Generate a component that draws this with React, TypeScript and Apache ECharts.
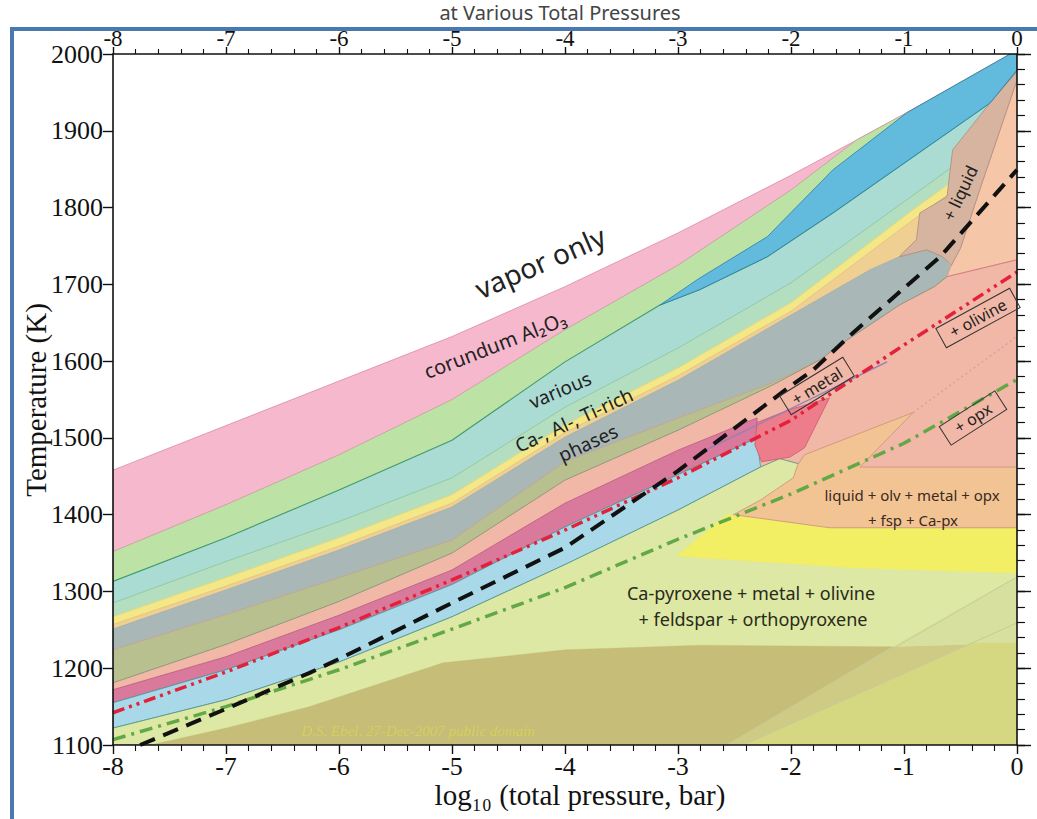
import { useEffect, useRef } from "react";
import * as echarts from "echarts";

type Pt = [number, number];

const X_MIN = -8;
const X_MAX = 0;
const T_MIN = 1100;
const T_MAX = 2000;
const xTickStep = 1;
const tTickStep = 100;

// ---- boundary curves: [log10 P (bar), T (K)] ----
const vaporLine: Pt[] = [[-8,1458],[-7,1516],[-6,1574],[-5,1632],[-4,1697],[-3,1767],[-2,1842],[-1.42,1888],[-0.97,1924],[-0.06,2000],[0,2000]];
const corundumBase: Pt[] = [[-8,1352],[-7,1413],[-6,1478],[-5,1550],[-4,1641],[-3,1725],[-2,1823],[-1.42,1888],[-0.97,1924],[-0.06,2000],[0,2000]];
const greenBase: Pt[] = [[-8,1313],[-7,1370],[-6,1432],[-5,1497],[-4,1599],[-3.16,1673],[-2.81,1693],[-2.21,1736],[-1.63,1793],[-0.24,1936],[0,1979]];
const blueZone: Pt[] = [[-3.16,1673],[-2.81,1708],[-2.21,1762],[-1.63,1849],[-0.97,1924],[-0.06,2000],[0,2000],[0,1979],[-0.24,1936],[-1.63,1793],[-2.21,1736],[-2.81,1693]];
const tealBase: Pt[] = [[-8,1285],[-7,1339],[-6,1391],[-5,1448],[-4,1540],[-3,1617],[-2,1702],[-0.92,1816],[0,1914]];
const yellowTop: Pt[] = [[-8,1267],[-7,1318],[-6,1370],[-5,1426],[-4,1517],[-3,1591],[-2,1676],[-0.92,1797],[0,1895]];
const orangeLineTop: Pt[] = [[-8,1257],[-7,1307],[-6,1359],[-5,1415],[-4,1507],[-3,1581],[-2,1665],[-0.92,1784],[0,1882]];
const greyTop: Pt[] = [[-8,1251],[-7,1302],[-6,1354],[-5,1410],[-4,1501],[-3,1575],[-2,1660],[-1.3,1719],[-1.04,1736],[-0.8,1745],[-0.66,1736],[-0.59,1724],[0,1724]];
const oliveTop: Pt[] = [[-8,1224],[-7,1270],[-6,1318],[-5,1367],[-4,1469],[-3,1526],[-2.16,1572],[-1.74,1602],[-1.57,1621],[-1.04,1673],[-0.73,1697],[-0.62,1710],[0,1710]];
const salmonTop: Pt[] = [[-8,1181],[-7,1231],[-6,1287],[-5,1350],[-4,1445],[-3,1510],[-2.16,1569],[-1.74,1602],[-1.57,1621],[-1.04,1673],[-0.73,1697],[-0.62,1710],[-0.58,1725],[-0.5,1747],[-0.33,1823],[0,1966]];
const peachZone: Pt[] = [[0,1966],[-0.33,1823],[-0.5,1747],[-0.58,1725],[-0.62,1710],[0,1732]];
const tanZone: Pt[] = [[0,1977],[-0.24,1936],[-0.57,1875],[-0.62,1814],[-0.86,1793],[-0.89,1758],[-1.01,1741],[-1.04,1736],[-0.8,1745],[-0.66,1736],[-0.58,1725],[-0.5,1747],[-0.33,1823],[0,1966]];
const magentaTop: Pt[] = [[-8,1172],[-7,1215],[-6,1269],[-5,1328],[-4,1415],[-3,1484],[-2.3,1526]];
const lightBlueTop: Pt[] = [[-8,1155],[-7,1198],[-6,1250],[-5,1309],[-4,1384],[-3,1452],[-2.3,1500]];
const lightBlueBase: Pt[] = [[-8,1122],[-7,1159],[-6,1208],[-5,1267],[-4,1335],[-3,1406],[-2.27,1462]];
const blobEdge: Pt[] = [[-2.1,1473],[-1.95,1467],[-1.39,1458],[0,1458]];
const coralBlob: Pt[] = [[-2.3,1520],[-2.01,1537],[-1.66,1552],[-1.88,1487],[-2.01,1475],[-2.26,1469],[-2.32,1491]];
const orangeZone: Pt[] = [[-2.51,1400],[-2.27,1419],[-1.98,1448],[-1.94,1465],[-1.88,1478],[-0.92,1533],[-1.39,1462],[0,1462],[0,1383],[-1.66,1383]];
const yellowZone: Pt[] = [[-3.01,1346],[-2.57,1400],[-2.27,1395],[-1.66,1383],[0,1383],[0,1324],[-1.48,1331]];
const oliveDark: Pt[] = [[-7.67,1100],[-7,1122],[-6.26,1150],[-5.08,1207],[-4,1224],[-2.81,1230],[-1.1,1228],[-2.57,1100]];
const diagMid: Pt[] = [[-1.1,1228],[0,1233],[0,1100],[-2.57,1100]];
const diagUpper: Pt[] = [[-1.1,1228],[0,1319],[0,1233]];
const diagLower: Pt[] = [[-2.42,1100],[-0.4,1233],[0,1233],[0,1100]];
const upperDiagLine: Pt[] = [[-2.57,1100],[0,1319]];
const lowerDiagLine: Pt[] = [[-2.42,1100],[0,1259]];
const purpleLine: Pt[] = [[-2.8,1481],[-1.15,1599]];
const olivineLine: Pt[] = [[-0.62,1710],[0,1732]];
const dottedLine: Pt[] = [[-0.92,1533],[0,1632]];

// ---- dashed reference paths ----
const blackDashed: Pt[] = [[-7.76,1100],[-7,1147],[-6.26,1194],[-6,1212],[-5,1285],[-4,1357],[-3,1457],[-2,1568],[-1.8,1589],[-1.45,1637],[-1,1695],[-0.68,1736],[0,1849]];
const redDashDot: Pt[] = [[-8,1142],[-7,1195],[-6,1253],[-5,1315],[-4,1380],[-3,1448],[-2,1523],[-1,1621],[0,1716]];
const greenDashDot: Pt[] = [[-8,1107],[-7,1150],[-6,1198],[-5,1251],[-4,1305],[-3,1368],[-2,1427],[-1,1493],[0,1576]];

const fillBelow = (top: Pt[]): Pt[] => [...top, [X_MAX, T_MIN], [X_MIN, T_MIN]];
const band = (top: Pt[], bottom: Pt[]): Pt[] => [...top, ...bottom.slice().reverse()];

const serif = '"Liberation Serif", "DejaVu Serif", serif';
const sans = '"Noto Sans", "Open Sans", sans-serif';

let zc = 1;
function poly(name: string, pts: Pt[], fill: string, stroke?: string, lw = 0.8) {
  const z = zc++;
  return {
    type: "custom",
    name,
    z,
    silent: true,
    clip: true,
    data: pts,
    renderItem: (params: any, api: any) => {
      if (params.dataIndex !== 0) return null;
      return {
        type: "polygon",
        shape: { points: pts.map((p) => api.coord(p)) },
        style: { fill, stroke: stroke || fill, lineWidth: stroke ? lw : 0.3 },
      };
    },
  };
}

function line(name: string, pts: Pt[], color: string, width: number, type: any, z = 40) {
  return {
    type: "line",
    name,
    data: pts,
    z,
    silent: true,
    symbol: "none",
    showSymbol: false,
    lineStyle: { color, width, type, cap: "butt" },
  };
}

function txt(text: string, x: number, y: number, font: string, rot = 0, fill = "#222") {
  return {
    type: "text",
    x,
    y,
    rotation: rot,
    z: 100,
    style: { text, font, fill, align: "center", verticalAlign: "middle", textAlign: "center", textVerticalAlign: "middle" },
  };
}

function boxed(text: string, x: number, y: number, w: number, h: number, rot: number) {
  return {
    type: "group",
    x,
    y,
    rotation: rot,
    z: 100,
    children: [
      { type: "rect", shape: { x: -w / 2, y: -h / 2, width: w, height: h }, style: { fill: "none", stroke: "#333", lineWidth: 1 }, z: 100 },
      { type: "text", x: 0, y: 0, z: 101, style: { text, font: `16px ${sans}`, fill: "#222", align: "center", verticalAlign: "middle", textAlign: "center", textVerticalAlign: "middle" } },
    ],
  };
}

function buildOption() {
  zc = 1;
  const series: any[] = [
    poly("corundum", fillBelow(vaporLine), "#f6b8cd", "#d98aa6"),
    poly("green", fillBelow(corundumBase), "#bde2a6", "#c79a9a"),
    poly("teal", fillBelow(greenBase), "#abdcd4", "#3f9a6c", 1.1),
    poly("green2", fillBelow(tealBase), "#b4dec0", "#8cc49c"),
    poly("yellow", fillBelow(yellowTop), "#f4e788", "#e8d870"),
    poly("orangeLine", fillBelow(orangeLineTop), "#efd092", "#e2c080"),
    poly("grey", fillBelow(greyTop), "#a9b8b7", "#9fb0ae"),
    poly("olive", fillBelow(oliveTop), "#b8c08f", "#c9a090"),
    poly("salmon", fillBelow(salmonTop), "#f1b7a7", "#7e9075"),
    poly("peach", peachZone, "#f6c6a8", "#e6a8a0"),
    poly("tan", tanZone, "#d7b4a0", "#b08a78"),
    poly("blue", blueZone, "#62badd", "#2b7fa6"),
    poly("magenta", band(magentaTop, lightBlueTop), "#d9799c", "#b85a80"),
    poly("lightBlue", band(lightBlueTop, lightBlueBase), "#a9d9e9", "#3d9c98"),
    poly("yellowGreen", fillBelow([...lightBlueBase, ...blobEdge]), "#dce8a3", "#4f8f88"),
    poly("oliveDark", oliveDark, "#c5bd78"),
    poly("diagMid", diagMid, "#cfca84"),
    poly("diagUpper", diagUpper, "#d7e09e"),
    poly("diagLower", diagLower, "#d6d781"),
    poly("yellowZone", yellowZone, "#f3ef64"),
    poly("orangeZone", orangeZone, "#f3c493", "#c9907a"),
    poly("coral", coralBlob, "#ee7d8b", "#c85a6a"),
    line("upperDiag", upperDiagLine, "#c4cc98", 1, "solid", 30),
    line("lowerDiag", lowerDiagLine, "#c4cc98", 1, "solid", 30),
    line("purple", purpleLine, "#8f7fb8", 1.2, "solid", 30),
    line("olivine", olivineLine, "#d97b86", 1, "solid", 30),
    line("dotted", dottedLine, "#dc9a90", 1.2, [2, 3], 30),
    line("greenDashDot", greenDashDot, "#62a847", 3.5, [13, 6, 3, 6], 41),
    line("redDashDot", redDashDot, "#e4213a", 3.5, [12, 5, 3, 5, 3, 5], 42),
    line("blackDashed", blackDashed, "#111111", 4, [16, 9], 43),
  ];

  const tickLine = { color: "#111", width: 1.4 };
  const labelStyle = { fontFamily: serif, fontSize: 26, color: "#111" };
  const xBase = {
    type: "value",
    min: X_MIN,
    max: X_MAX,
    interval: xTickStep,
    gridIndex: 0,
    z: 50,
    splitLine: { show: false },
    axisLine: { show: true, onZero: false, lineStyle: { color: "#111", width: 1.6 } },
    axisTick: { show: true, length: 9, lineStyle: tickLine },
    minorTick: { show: true, splitNumber: 5, length: 6, lineStyle: { color: "#111", width: 1.1 } },
    axisLabel: { ...labelStyle, margin: 8, formatter: (v: number) => String(v) },
  };
  const yBase = {
    type: "value",
    min: T_MIN,
    max: T_MAX,
    interval: tTickStep,
    z: 50,
    splitLine: { show: false },
    axisLine: { show: true, onZero: false, lineStyle: { color: "#111", width: 1.6 } },
  };

  return {
    animation: false,
    backgroundColor: "#ffffff",
    grid: { left: 113, right: 20, top: 54, bottom: 74, containLabel: false, outerBoundsMode: "none" },
    xAxis: [
      { ...xBase, position: "bottom" },
      {
        ...xBase,
        position: "top",
        axisTick: { show: true, length: 7, lineStyle: tickLine },
        minorTick: { show: true, splitNumber: 5, length: 5, lineStyle: { color: "#111", width: 1.1 } },
        axisLabel: { ...labelStyle, fontSize: 23, margin: 4, formatter: (v: number) => String(v) },
      },
    ],
    yAxis: [
      {
        ...yBase,
        position: "left",
        axisTick: { show: true, length: 10, lineStyle: tickLine },
        minorTick: { show: false },
        axisLabel: { ...labelStyle, margin: 10, formatter: (v: number) => String(v) },
      },
      {
        ...yBase,
        position: "left",
        axisLine: { show: false },
        axisTick: { show: true, inside: true, length: 8, lineStyle: tickLine },
        minorTick: { show: true, splitNumber: 5, length: 8, lineStyle: { color: "#111", width: 1.1 } },
        axisLabel: { show: false },
      },
      {
        ...yBase,
        position: "right",
        axisTick: { show: true, length: 14, lineStyle: tickLine },
        minorTick: { show: true, splitNumber: 5, length: 7, lineStyle: { color: "#111", width: 1.1 } },
        axisLabel: { show: false },
      },
    ],
    series,
    graphic: [
      { type: "rect", z: 100, shape: { x: 10, y: 27, width: 1027, height: 4 }, style: { fill: "#4a78b0" } },
      { type: "rect", z: 100, shape: { x: 10, y: 27, width: 4, height: 792 }, style: { fill: "#4a78b0" } },
      txt("at Various Total Pressures", 560, 12, `20px ${sans}`, 0, "#444"),
      txt("vapor only", 540, 262, `28px ${sans}`, 0.41),
      txt("corundum Al\u2082O\u2083", 495, 345, `20px ${sans}`, 0.37),
      txt("various", 560, 390, `19px ${sans}`, 0.4),
      txt("Ca-, Al-, Ti-rich", 574, 420, `19px ${sans}`, 0.43),
      txt("phases", 588, 443, `19px ${sans}`, 0.43),
      txt("+ liquid", 960, 193, `17px ${sans}`, 1.13),
      boxed("+ metal", 817, 386, 74, 22, 0.55),
      boxed("+ olivine", 978, 318, 84, 22, 0.5),
      boxed("+ opx", 973, 418, 66, 22, 0.57),
      txt("liquid + olv + metal + opx", 912, 495, `15px ${sans}`, 0, "#3a2a1e"),
      txt("+ fsp + Ca-px", 913, 520, `15px ${sans}`, 0, "#3a2a1e"),
      txt("Ca-pyroxene + metal + olivine", 751, 593, `18px ${sans}`, 0, "#2a2a1a"),
      txt("+ feldspar + orthopyroxene", 753, 619, `18px ${sans}`, 0, "#2a2a1a"),
      txt("D.S. Ebel, 27-Dec-2007 public domain", 418, 731, `italic 15px ${serif}`, 0, "#d6cf5e"),
      txt("Temperature (K)", 36, 400, `29px ${serif}`, Math.PI / 2, "#111"),
      txt("log\u2081\u2080 (total pressure, bar)", 580, 795, `29px ${serif}`, 0, "#111"),
    ],
  };
}

export default function App() {
  const ref = useRef<HTMLDivElement>(null);
  useEffect(() => {
    if (!ref.current) return;
    const chart = echarts.init(ref.current, undefined, { renderer: "svg" });
    chart.setOption(buildOption() as any);
    return () => chart.dispose();
  }, []);
  return (
    <div
      ref={ref}
      style={{ position: "absolute", left: 0, top: 0, width: 1037, height: 819, background: "#fff" }}
    />
  );
}
